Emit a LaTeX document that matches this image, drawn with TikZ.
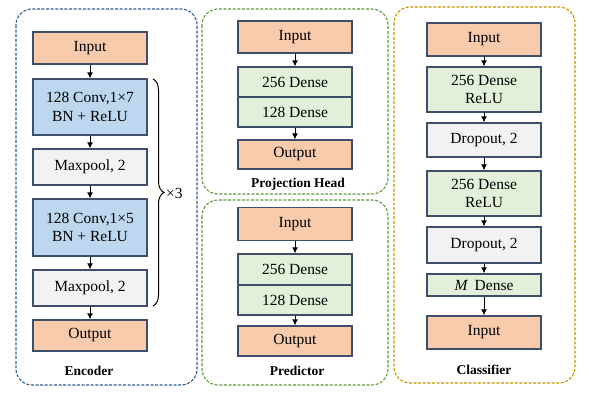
\documentclass[tikz,border=0pt]{standalone}
\usepackage{fontspec}
\setmainfont{Liberation Serif}
\usetikzlibrary{arrows.meta,decorations.pathreplacing}
\definecolor{cin}{HTML}{F8CBAD}
\definecolor{cconv}{HTML}{BDD7EE}
\definecolor{cpool}{HTML}{F2F2F2}
\definecolor{cdense}{HTML}{E2F0D9}
\definecolor{cborder}{HTML}{3E4F6C}
\definecolor{cenc}{HTML}{2F5F8F}
\definecolor{cproj}{HTML}{5E9A3C}
\definecolor{ccls}{HTML}{C49400}
\tikzset{
  blk/.style={draw=cborder, line width=1.3pt, minimum width=114pt, inner sep=0pt, align=center,
     font=\fontsize{15.5}{18.5}\selectfont},
  inbox/.style={blk, fill=cin},
  convbox/.style={blk, fill=cconv},
  poolbox/.style={blk, fill=cpool},
  densebox/.style={blk, fill=cdense},
  container/.style={line width=1.1pt, dash pattern=on 3pt off 1.6pt, rounded corners=16pt},
  title/.style={font=\fontsize{13.5}{15}\selectfont\bfseries},
  conn/.style={-{Latex[length=6pt,width=6pt]}, line width=1pt, black},
}
\begin{document}
\begin{tikzpicture}[x=1pt,y=-1pt]
\useasboundingbox (0,0) rectangle (589,393);
% containers
\draw[container, draw=cenc] (16,9) rectangle (197,385);
\draw[container, draw=cproj] (202,9) rectangle (388,194);
\draw[container, draw=cproj] (202,200) rectangle (388,385);
\draw[container, draw=ccls] (394,7) rectangle (575,383);

% Encoder
\node[inbox, minimum height=32pt] (ein) at (90,48) {Input};
\node[convbox, minimum height=56pt] (ec1) at (90,107) {128 Conv,1×7\\BN + ReLU};
\node[poolbox, minimum height=36pt] (ep1) at (90,167) {Maxpool, 2};
\node[convbox, minimum height=57pt] (ec2) at (90,227.5) {128 Conv,1×5\\BN + ReLU};
\node[poolbox, minimum height=36pt] (ep2) at (90,288) {Maxpool, 2};
\node[inbox, minimum height=31pt] (eout) at (90,335.5) {Output};
\node[title] (etitle) at (89,371) {Encoder};
\draw[conn] (ein) -- (ec1);
\draw[conn] (ec1) -- (ep1);
\draw[conn] (ep1) -- (ec2);
\draw[conn] (ec2) -- (ep2);
\draw[conn] (ep2) -- (eout);
\coordinate (brtop) at (153,79);
\coordinate (brbot) at (153,306);
\draw[line width=1pt, decorate, decoration={brace, amplitude=11pt}] (brtop) -- (brbot);
\node[font=\fontsize{15.5}{18.5}\selectfont, anchor=west, inner sep=0pt] (times) at (166,193) {×3};

% Projection head
\node[inbox, minimum height=32pt] (pin) at (295,37) {Input};
\node[densebox, minimum height=30pt] (pd1) at (295,82) {256 Dense};
\node[densebox, minimum height=30pt] (pd2) at (295,112) {128 Dense};
\node[inbox, minimum height=29pt] (pout) at (295,154.5) {Output};
\node[title] (ptitle) at (298,184) {Projection Head};
\draw[conn] (pin) -- (pd1);
\draw[conn] (pd2) -- (pout);

% Predictor
\node[inbox, minimum height=33pt] (qin) at (295,224) {Input};
\node[densebox, minimum height=31pt] (qd1) at (295,269.5) {256 Dense};
\node[densebox, minimum height=30pt] (qd2) at (295,300) {128 Dense};
\node[inbox, minimum height=30pt] (qout) at (295,341) {Output};
\node[title] (qtitle) at (297,371) {Predictor};
\draw[conn] (qin) -- (qd1);
\draw[conn] (qd2) -- (qout);

% Classifier
\node[inbox, minimum height=33pt] (cin1) at (484,39.5) {Input};
\node[densebox, minimum height=45pt] (cd1) at (484,89.5) {256 Dense\\ReLU};
\node[poolbox, minimum height=34pt] (cdr1) at (484,140) {Dropout, 2};
\node[densebox, minimum height=45pt] (cd2) at (484,193.5) {256 Dense\\ReLU};
\node[poolbox, minimum height=36pt] (cdr2) at (484,245) {Dropout, 2};
\node[densebox, minimum height=22pt] (cm) at (484,285) {\textit{M}\, Dense};
\node[inbox, minimum height=33pt] (cin2) at (484,332.5) {Input};
\node[title] (ctitle) at (484,370) {Classifier};
\draw[conn] (cin1) -- (cd1);
\draw[conn] (cd1) -- (cdr1);
\draw[conn] (cdr1) -- (cd2);
\draw[conn] (cd2) -- (cdr2);
\draw[conn] (cdr2) -- (cm);
\draw[conn] (cm) -- (cin2);
\end{tikzpicture}
\end{document}
